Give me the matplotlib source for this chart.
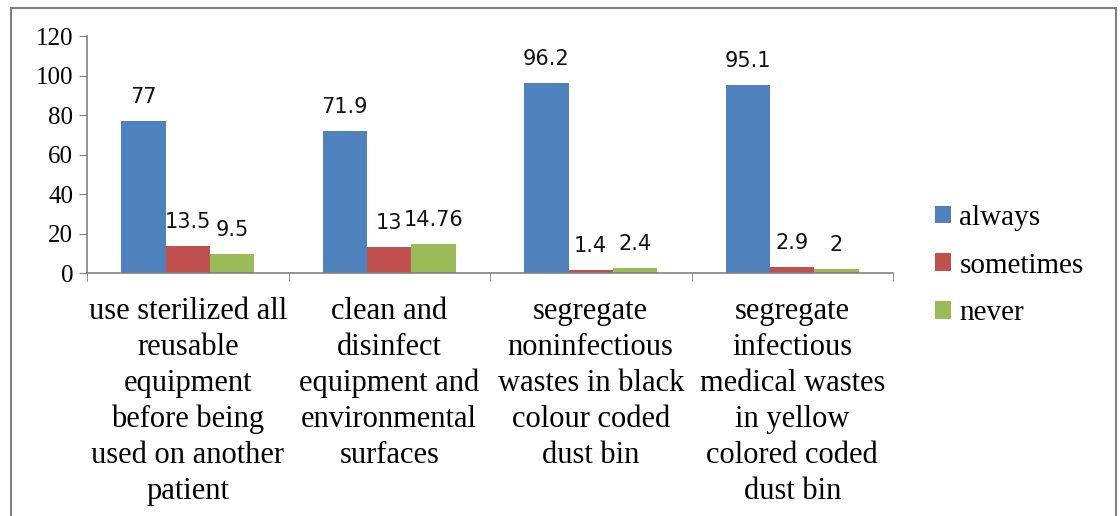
import matplotlib
matplotlib.use("Agg")
import matplotlib.pyplot as plt
import numpy as np
from matplotlib.patches import Rectangle

categories = [
    "use sterilized all\nreusable\nequipment\nbefore being\nused on another\npatient",
    "clean and\ndisinfect\nequipment and\nenvironmental\nsurfaces",
    "segregate\nnoninfectious\nwastes in black\ncolour coded\ndust bin",
    "segregate\ninfectious\nmedical wastes\nin yellow\ncolored coded\ndust bin",
]
series_names = ["always", "sometimes", "never"]
always = [77, 71.9, 96.2, 95.1]
sometimes = [13.5, 13, 1.4, 2.9]
never = [9.5, 14.76, 2.4, 2]
label_text = [["77", "71.9", "96.2", "95.1"],
              ["13.5", "13", "1.4", "2.9"],
              ["9.5", "14.76", "2.4", "2"]]
yticks = [0, 20, 40, 60, 80, 100, 120]

colors = ["#4F81BD", "#C0504D", "#9BBB59"]
serif = ["Liberation Serif", "DejaVu Serif"]

fig = plt.figure(figsize=(11.2, 5.16), dpi=100)
ax = fig.add_axes([87/1120, 1-273/516, (893-87)/1120, (273-36)/516])

x = np.arange(len(categories))
w = 0.22
data = [always, sometimes, never]
for i, (vals, c, name) in enumerate(zip(data, colors, series_names)):
    pos = x + (i - 1) * w
    ax.bar(pos, vals, width=w, color=c, label=name, edgecolor="none")
    for p, v, t in zip(pos, vals, label_text[i]):
        ax.annotate(t, (p, v), xytext=(0, 10), textcoords="offset points",
                    ha="center", va="bottom", fontsize=15,
                    family=["DejaVu Sans"], color="#111111")

ax.set_xlim(-0.5, len(categories) - 0.5)
ax.set_ylim(0, 120)
ax.set_yticks(yticks)
ax.set_yticklabels([str(v) for v in yticks], family=serif, fontsize=18)
ax.set_xticks(x)
ax.set_xticklabels(categories, family=serif, fontsize=22, linespacing=1.32)
ax.tick_params(axis="x", which="major", length=0, pad=17)
ax.set_xticks(np.arange(len(categories) + 1) - 0.5, minor=True)
ax.tick_params(axis="x", which="minor", length=6, color="#808080")
ax.tick_params(axis="y", length=6, color="#808080", pad=4)
for s in ["top", "right"]:
    ax.spines[s].set_visible(False)
for s in ["left", "bottom"]:
    ax.spines[s].set_color("#808080")
    ax.spines[s].set_linewidth(1.2)

leg = fig.legend(loc="upper left", bbox_to_anchor=(923/1120, 1-193/516),
                 frameon=False, prop={"family": serif, "size": 21},
                 handlelength=0.55, handleheight=0.55, handletextpad=0.3,
                 labelspacing=0.75, borderaxespad=0)

fig.patches.append(Rectangle((11/1120, -0.05), (1116-11)/1120, 1.05 - 8/516,
                             transform=fig.transFigure, fill=False,
                             edgecolor="#7f7f7f", linewidth=1.5))

fig.savefig("out.png", dpi=100)
